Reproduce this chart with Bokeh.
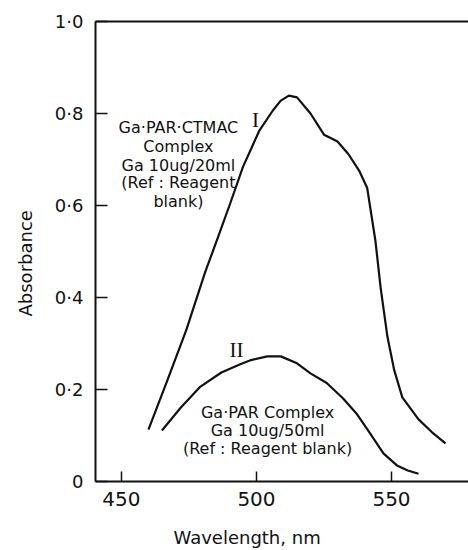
from bokeh.plotting import figure
from bokeh.models import LinearAxis, FixedTicker, Range1d, Title
from bokeh.core.properties import value
from bokeh.embed import file_html
from bokeh.resources import INLINE

# Absorption spectra, wavelength in nm
wl_ctmac = [460, 467, 474, 481, 486, 490, 495, 501, 506, 509, 512, 515, 520, 525,
            528, 530, 534, 538, 541, 542, 544, 546, 548.5, 551, 554, 560, 565, 570]
abs_ctmac = [0.113, 0.220, 0.329, 0.455, 0.535, 0.600, 0.684, 0.762, 0.806, 0.828,
             0.839, 0.835, 0.800, 0.754, 0.745, 0.739, 0.712, 0.676, 0.638, 0.600,
             0.525, 0.420, 0.314, 0.242, 0.183, 0.135, 0.107, 0.083]

wl_par = [465, 472, 479, 487, 494, 498, 504, 509, 515, 520, 526, 532, 537, 542,
          547, 552, 556, 560]
abs_par = [0.111, 0.161, 0.205, 0.237, 0.255, 0.264, 0.272, 0.272, 0.257, 0.235,
           0.214, 0.181, 0.148, 0.105, 0.061, 0.035, 0.024, 0.017]

x_ticks = [450, 500, 550]
y_ticks = [0, 0.2, 0.4, 0.6, 0.8, 1.0]
y_tick_labels = ["0", "0·2", "0·4", "0·6", "0·8", "1·0"]

label_ctmac = ["Ga·PAR·CTMAC", "Complex", "Ga 10ug/20ml", "(Ref : Reagent", "blank)"]
label_par = ["Ga·PAR Complex", "Ga 10ug/50ml", "(Ref : Reagent blank)"]

SANS = "DejaVu Sans"
INK = "#111111"

p = figure(width=468, height=550,
           x_range=Range1d(440.4, 578.5), y_range=Range1d(0, 1.0),
           output_backend="svg", toolbar_location=None,
           min_border_left=95, min_border_right=0,
           min_border_top=21, min_border_bottom=69)
p.background_fill_color = "white"
p.border_fill_color = "white"
p.outline_line_color = None
p.xgrid.visible = False
p.ygrid.visible = False

# bottom axis
xa = p.xaxis[0]
xa.ticker = FixedTicker(ticks=x_ticks)
xa.major_tick_in = 10
xa.major_tick_out = 0
xa.minor_tick_line_color = None
xa.axis_line_width = 2
xa.axis_line_color = INK
xa.major_tick_line_width = 1.5
xa.major_tick_line_color = INK
xa.major_label_text_font = SANS
xa.major_label_text_font_size = "20px"
xa.major_label_text_color = INK
xa.major_label_standoff = 10

# left axis
ya = p.yaxis[0]
ya.ticker = FixedTicker(ticks=y_ticks)
ya.major_label_overrides = dict(zip(y_ticks, y_tick_labels))
ya.major_tick_in = 12
ya.major_tick_out = 0
ya.minor_tick_line_color = None
ya.axis_line_width = 2
ya.axis_line_color = INK
ya.major_tick_line_width = 1.5
ya.major_tick_line_color = INK
ya.major_label_text_font = SANS
ya.major_label_text_font_size = "18px"
ya.major_label_text_color = INK
ya.major_label_standoff = 12

# top border line
top = LinearAxis(ticker=FixedTicker(ticks=[]), axis_line_width=2, axis_line_color=INK,
                 major_tick_line_color=None, minor_tick_line_color=None,
                 major_label_text_font_size="0px")
p.add_layout(top, "above")

# axis titles
p.add_layout(Title(text="Wavelength, nm", align="left", offset=78,
                   text_font=SANS, text_font_size="18px", text_font_style="normal",
                   text_color=INK, standoff=5,
                   padding=dict(left=0, right=0, top=14, bottom=0)), "below")
p.add_layout(Title(text="Absorbance", align="left", offset=165, vertical_align="top",
                   text_font=SANS, text_font_size="18px", text_font_style="normal",
                   text_color=INK, standoff=28), "left")

# spectra
p.line(wl_ctmac, abs_ctmac, line_width=2.2, line_color=INK, line_join="round")
p.line(wl_par, abs_par, line_width=2.2, line_color=INK, line_join="round")

# curve annotations
p.text(x=[471.1] * 5, y=[0.769, 0.728, 0.688, 0.649, 0.608], text=label_ctmac,
       text_font=value(SANS), text_font_size="16px", text_color=INK,
       text_align="center", text_baseline="middle")
p.text(x=[504.1] * 3, y=[0.150, 0.111, 0.072], text=label_par,
       text_font=value(SANS), text_font_size="16px", text_color=INK,
       text_align="center", text_baseline="middle")
p.text(x=[499.6, 492.6], y=[0.786, 0.285], text=["I", "II"],
       text_font=value("Liberation Serif"), text_font_size="21px", text_color=INK,
       text_align="center", text_baseline="middle")

open("out.html", "w").write(file_html(p, INLINE))
